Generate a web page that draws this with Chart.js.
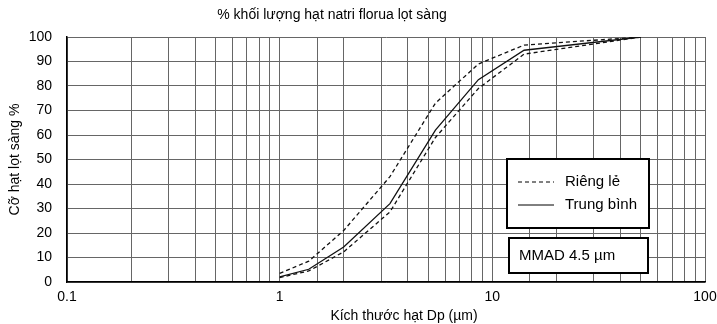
<!DOCTYPE html>
<html>
<head>
<meta charset="utf-8">
<script src="https://cdn.jsdelivr.net/npm/chart.js@4"></script>
<style>
html, body { margin: 0; padding: 0; background: #fff; }
</style>
</head>
<body>
<canvas id="myChart" width="717" height="324"></canvas>
<script>
// particle size (um) where the curves change slope
var sizes = [1, 1.37, 2, 3.3, 5.4, 8.6, 14.1, 50];
// cumulative % passing
var upper = [3.5, 8.5, 21, 43, 73, 89, 96.7, 100];
var mean = [2.1, 5.2, 14.3, 32, 62, 82.6, 94.6, 100];
var lower = [1.8, 4.5, 12.3, 28.6, 59, 79, 93, 100];
var xLabels = [0.1, 1, 10, 100];

var FONT = "'Liberation Sans', Arial, sans-serif";

function pts(vals) {
    return sizes.map(function (s, i) { return { x: s, y: vals[i] }; });
}

// titles + the two boxes on the right
var extras = {
    id: 'extras',
    afterDatasetsDraw: function (chart) {
        var c = chart.ctx;
        c.save();
        c.fillStyle = '#000';
        c.font = '14px ' + FONT;
        c.textAlign = 'center';
        c.textBaseline = 'middle';
        c.fillText('% khối lượng hạt natri florua lọt sàng', 332, 15);
        c.fillText('Kích thước hạt Dp (µm)', 404, 316);

        // legend box
        c.fillStyle = '#fff';
        c.fillRect(507, 159, 142, 69);
        c.strokeStyle = '#000';
        c.lineWidth = 2;
        c.strokeRect(507, 159, 142, 69);
        c.lineWidth = 1;
        c.setLineDash([4, 3]);
        c.beginPath(); c.moveTo(518, 182); c.lineTo(554, 182); c.stroke();
        c.setLineDash([]);
        c.beginPath(); c.moveTo(518, 205); c.lineTo(554, 205); c.stroke();
        c.fillStyle = '#000';
        c.font = '15px ' + FONT;
        c.textAlign = 'left';
        c.fillText('Riêng lẻ', 565, 182);
        c.fillText('Trung bình', 565, 205);

        // MMAD box
        c.fillStyle = '#fff';
        c.fillRect(509, 238, 139, 35);
        c.lineWidth = 2;
        c.strokeRect(509, 238, 139, 35);
        c.fillStyle = '#000';
        c.fillText('MMAD 4.5 µm', 519, 256);
        c.restore();
    }
};

var ctx = document.getElementById('myChart').getContext('2d');
var chart = new Chart(ctx, {
    type: 'line',
    data: {
        datasets: [{
            label: 'Riêng lẻ',
            data: pts(upper),
            borderColor: '#111',
            borderWidth: 1.3,
            borderDash: [4, 3],
            pointRadius: 0,
            fill: false
        }, {
            label: 'Trung bình',
            data: pts(mean),
            borderColor: '#111',
            borderWidth: 1.3,
            pointRadius: 0,
            fill: false
        }, {
            label: 'Riêng lẻ',
            data: pts(lower),
            borderColor: '#111',
            borderWidth: 1.3,
            borderDash: [4, 3],
            pointRadius: 0,
            fill: false
        }]
    },
    options: {
        responsive: false,
        animation: false,
        layout: { padding: { left: 0, right: 12, top: 37, bottom: 0 } },
        plugins: {
            legend: { display: false },
            tooltip: { enabled: false }
        },
        scales: {
            x: {
                type: 'logarithmic',
                min: 0.1,
                max: 100,
                afterFit: function (s) {
                    s.height = 42;
                    s.paddingLeft = 0;
                    s.paddingRight = 0;
                },
                grid: { color: '#666', lineWidth: 1, drawTicks: false },
                border: { color: '#000', width: 1.5 },
                ticks: {
                    autoSkip: false,
                    maxRotation: 0,
                    padding: 7,
                    color: '#000',
                    font: { family: FONT, size: 14 },
                    callback: function (v) {
                        for (var i = 0; i < xLabels.length; i++) {
                            if (Math.abs(v - xLabels[i]) < 1e-9) return String(xLabels[i]);
                        }
                        return '';
                    }
                }
            },
            y: {
                min: 0,
                max: 100,
                afterFit: function (s) { s.width = 67; },
                grid: { color: '#666', lineWidth: 1, drawTicks: false },
                border: { color: '#000', width: 1.5 },
                ticks: {
                    stepSize: 10,
                    padding: 15,
                    color: '#000',
                    font: { family: FONT, size: 14 }
                },
                title: {
                    display: true,
                    text: 'Cỡ hạt lọt sàng %',
                    color: '#000',
                    font: { family: FONT, size: 14 },
                    padding: { top: 7, bottom: 0 }
                }
            }
        }
    },
    plugins: [extras]
});
</script>
</body>
</html>
